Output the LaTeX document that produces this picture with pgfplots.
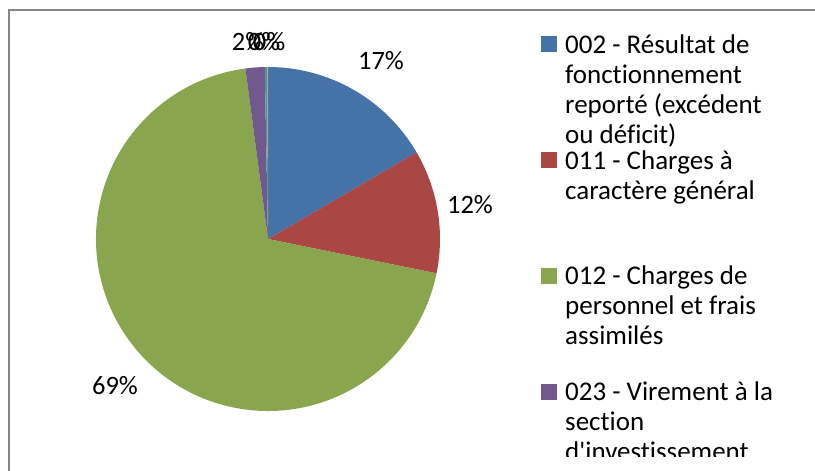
\documentclass[border=0pt]{standalone}
\usepackage{pgfplots}
\pgfplotsset{compat=1.18}
\usepackage{pgfplotstable}
\usepackage{fontspec}
\setmainfont{Carlito}[Ligatures=NoCommon]
\definecolor{c1}{HTML}{4572A7}
\definecolor{c2}{HTML}{AA4643}
\definecolor{c3}{HTML}{89A54E}
\definecolor{c4}{HTML}{71588F}
\definecolor{c5}{HTML}{4198AF}
\definecolor{c6}{HTML}{DB843D}
\definecolor{frame}{RGB}{134,134,134}

% value, colour, rounded label, label position (pt)
\pgfplotstableread{
value col lbl lx ly
16.6 c1 17 381 410
11.6 c2 12 470 266
69.7 c3 69 115 85
1.8 c4 2 248 429
0.25 c5 0 264 429
0.05 c6 0 269 429
}\piedata

\newcommand\legline[3]{\node[anchor=base west,inner sep=0pt] at (#1,#2) {#3};}

\begin{document}
\begin{tikzpicture}[x=1pt,y=1pt]
\useasboundingbox (0,0) rectangle (815,471);
\clip (0,0) rectangle (815,471);
\begin{axis}[
  at={(0,0)}, anchor=origin,
  scale only axis, width=815pt, height=471pt,
  xmin=0, xmax=815, ymin=0, ymax=471,
  hide axis, clip=false,
]
\pgfplotstablegetrowsof{\piedata}
\pgfmathtruncatemacro\N{\pgfplotsretval-1}
\gdef\cum{0}
\pgfplotsforeachungrouped \i in {0,...,\N}{%
  \pgfplotstablegetelem{\i}{value}\of\piedata \let\v\pgfplotsretval
  \pgfplotstablegetelem{\i}{col}\of\piedata \let\c\pgfplotsretval
  \pgfmathsetmacro\aA{90-3.6*\cum}%
  \pgfmathsetmacro\aB{90-3.6*(\cum+\v)}%
  \edef\temp{\noexpand\fill[\c] (axis cs:268,232) -- ++(\aA:172pt) arc[start angle=\aA, end angle=\aB, radius=172pt] -- cycle;}%
  \temp
  \pgfmathsetmacro\newcum{\cum+\v}%
  \global\let\cum\newcum
}
\pgfplotsforeachungrouped \i in {0,...,\N}{%
  \pgfplotstablegetelem{\i}{lbl}\of\piedata \let\l\pgfplotsretval
  \pgfplotstablegetelem{\i}{lx}\of\piedata \let\lx\pgfplotsretval
  \pgfplotstablegetelem{\i}{ly}\of\piedata \let\ly\pgfplotsretval
  \edef\temp{\noexpand\node[font=\noexpand\fontsize{26.5}{30}\noexpand\selectfont, inner sep=0pt] at (axis cs:\lx,\ly) {\l\noexpand\%};}%
  \temp
}
\end{axis}
\draw[frame, line width=1.3pt] (9,-20) -- (9,461) -- (840,461);
\begin{scope}
\clip (500,14) rectangle (815,471);
\fontsize{27}{30}\selectfont
\fill[c1] (541,419) rectangle (557,435);
\legline{565}{417.5}{002 - Résultat de}
\legline{565}{387.5}{fonctionnement}
\legline{565}{357.5}{reporté (excédent}
\legline{565}{327.5}{ou déficit)}
\fill[c2] (541,303) rectangle (557,319);
\legline{565}{301.8}{011 - Charges à}
\legline{565}{271.8}{caractère général}
\fill[c3] (541,187) rectangle (557,203);
\legline{565}{186.1}{012 - Charges de}
\legline{565}{156.1}{personnel et frais}
\legline{565}{126.1}{assimilés}
\fill[c4] (541,71) rectangle (557,87);
\legline{565}{70.4}{023 - Virement à la}
\legline{565}{40.4}{section}
\legline{565}{10.4}{d\textquotesingle investissement}
\end{scope}
\end{tikzpicture}
\end{document}
